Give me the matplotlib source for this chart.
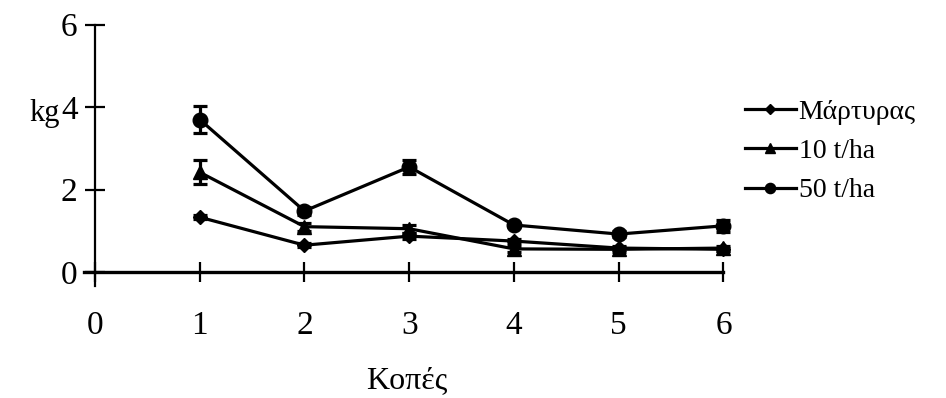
# Yield per cut (kg) for the control and two manure rates, with error bars
import matplotlib.pyplot as plt
from matplotlib.lines import Line2D

plt.rcParams['font.family'] = ['Liberation Serif', 'DejaVu Serif']

cuts = [1, 2, 3, 4, 5, 6]
x_ticks = [0, 1, 2, 3, 4, 5, 6]
x_tick_labels = ["0", "1", "2", "3", "4", "5", "6"]
y_ticks = [0, 2, 4, 6]

control = [1.33, 0.65, 0.87, 0.75, 0.58, 0.55]
control_err = [0.05, 0.05, 0.08, 0.05, 0.05, 0.04]
rate_10 = [2.42, 1.10, 1.05, 0.56, 0.55, 0.58]
rate_10_err = [0.29, 0.10, 0.10, 0.08, 0.06, 0.06]
rate_50 = [3.70, 1.48, 2.55, 1.14, 0.92, 1.12]
rate_50_err = [0.33, 0.10, 0.17, 0.06, 0.08, 0.15]

labels = ["Μάρτυρας", "10 t/ha", "50 t/ha"]

fig = plt.figure(figsize=(9.46, 3.98), dpi=100)
ax = fig.add_axes([0.0893, 0.2804, 0.681, 0.6626])

series = [
    (control, control_err, "D", 7.5),
    (rate_10, rate_10_err, "^", 9.5),
    (rate_50, rate_50_err, "o", 10.5),
]
handles = []
for vals, errs, mk, ms in series:
    ax.errorbar(cuts, vals, yerr=errs, color="black", marker=mk, markersize=ms,
                linewidth=2.3, elinewidth=2.3, capsize=5, capthick=2.3,
                clip_on=False)
    # legend keys show only the line and a small marker
    handles.append(Line2D([], [], color="black", marker=mk,
                          markersize=ms * 0.7, linewidth=2.3))

ax.set_xlim(-0.1, 6.05)
ax.set_ylim(-0.35, 6.05)

ax.spines['top'].set_visible(False)
ax.spines['right'].set_visible(False)
ax.spines['left'].set_position(('data', 0))
ax.spines['bottom'].set_position(('data', 0))
ax.spines['left'].set_bounds(-0.35, 6)
ax.spines['bottom'].set_bounds(-0.1, 6)
ax.spines['left'].set_linewidth(1.6)
ax.spines['bottom'].set_linewidth(2.4)

ax.set_xticks(x_ticks)
ax.set_xticklabels(x_tick_labels)
ax.set_yticks(y_ticks)
ax.tick_params(axis='x', direction='inout', length=15, width=1.6,
               pad=20, labelsize=24)
ax.tick_params(axis='y', direction='inout', length=15, width=1.6,
               pad=5, labelsize=24)

ax.set_xlabel("Κοπές", fontsize=23, labelpad=18)
ax.text(-0.33, 3.85, "kg", fontsize=22, ha='right', va='center')

ax.legend(handles, labels, loc='center left', bbox_to_anchor=(0.787, 0.62),
          bbox_transform=fig.transFigure, frameon=False, fontsize=20,
          handlelength=1.85, handletextpad=0.1, labelspacing=0.5,
          borderpad=0, borderaxespad=0)

fig.savefig("out.png", dpi=100)
